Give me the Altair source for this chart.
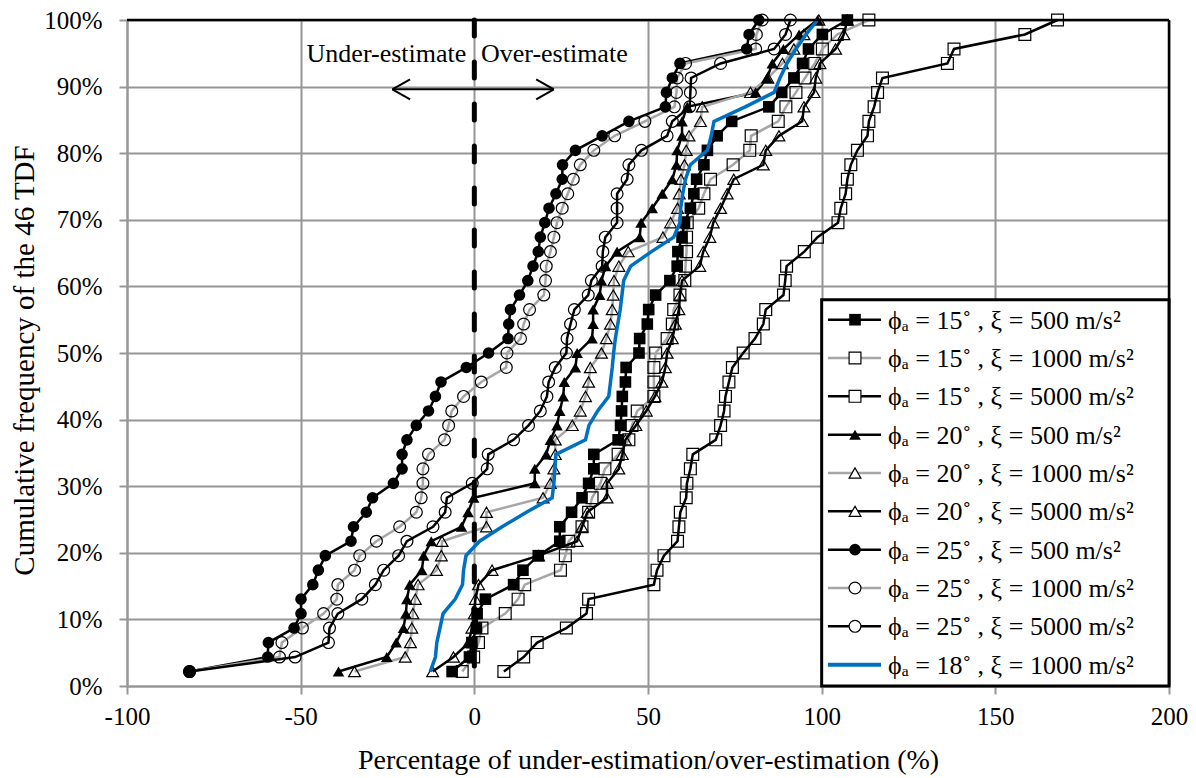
import altair as alt
import pandas as pd

# cumulative frequency of the 46 TDF (k/46, in %)
CUM_FREQ = [2.17, 4.35, 6.52, 8.70, 10.87, 13.04, 15.22, 17.39, 19.57, 21.74,
            23.91, 26.09, 28.26, 30.43, 32.61, 34.78, 36.96, 39.13, 41.30, 43.48,
            45.65, 47.83, 50.00, 52.17, 54.35, 56.52, 58.70, 60.87, 63.04, 65.22,
            67.39, 69.57, 71.74, 73.91, 76.09, 78.26, 80.43, 82.61, 84.78, 86.96,
            89.13, 91.30, 93.48, 95.65, 97.83, 100.00]

PHI15_XI500 = [-6.4, -1.4, -0.7, 0.6, 0.8, 3.2, 11.3, 14.0, 18.4, 24.6,
               24.6, 28.0, 31.0, 32.9, 34.4, 34.4, 41.4, 42.1, 42.4, 42.6,
               43.5, 43.7, 47.4, 47.6, 49.8, 50.2, 52.2, 56.3, 58.4, 58.6,
               59.8, 60.5, 62.2, 63.2, 64.0, 66.1, 67.1, 69.9, 74.1, 84.8,
               88.5, 92.0, 94.5, 96.2, 100.2, 107.4]
PHI15_XI1000 = [-3.5, -0.2, 1.2, 2.2, 8.9, 12.6, 14.5, 24.8, 26.2, 27.2,
                31.0, 32.9, 33.9, 36.3, 37.6, 41.4, 44.5, 45.4, 46.9, 51.7,
                51.7, 51.7, 52.2, 55.5, 57.0, 57.4, 59.2, 60.6, 60.8, 61.1,
                61.1, 61.3, 64.6, 66.1, 68.0, 74.5, 79.3, 79.7, 87.5, 89.7,
                92.6, 95.2, 98.0, 100.2, 104.5, 113.6]
PHI15_XI5000 = [8.5, 14.2, 18.1, 26.5, 32.3, 32.9, 51.7, 52.6, 54.6, 58.5,
                58.9, 59.3, 61.0, 61.2, 62.2, 62.9, 69.5, 70.9, 71.9, 72.3,
                73.3, 74.3, 77.4, 80.8, 83.2, 83.9, 89.0, 89.5, 89.9, 95.0,
                98.8, 104.7, 105.5, 106.9, 107.4, 108.4, 110.3, 113.2, 113.6, 115.1,
                116.1, 117.5, 136.2, 138.1, 158.5, 167.9]
PHI20_XI500 = [-39.1, -25.2, -22.5, -20.4, -19.7, -19.4, -18.6, -15.1, -14.6, -12.4,
               -3.7, -1.8, -0.2, 17.4, 17.4, 20.7, 21.9, 23.8, 24.6, 25.6,
               25.9, 29.1, 29.6, 33.9, 34.2, 34.2, 36.1, 36.6, 37.8, 41.1,
               47.6, 48.0, 51.2, 54.1, 57.0, 58.2, 58.4, 59.8, 59.8, 61.3,
               81.0, 84.3, 85.8, 89.0, 93.5, 98.8]
PHI20_XI1000 = [-34.5, -19.9, -18.4, -18.0, -17.7, -17.0, -16.2, -10.9, -9.5, -9.3,
                3.5, 3.5, 19.8, 21.9, 22.9, 23.3, 23.3, 28.2, 30.5, 32.0,
                32.9, 33.4, 36.6, 38.0, 39.2, 39.7, 40.0, 40.2, 41.6, 44.3,
                54.3, 56.5, 58.5, 59.0, 59.5, 60.5, 61.0, 61.8, 65.1, 65.6,
                79.5, 84.5, 88.7, 92.0, 94.9, 99.2]
PHI20_XI5000 = [-12.0, -6.0, -1.6, -0.7, 0.0, 0.3, 1.2, 5.1, 18.5, 29.6,
                31.0, 32.5, 38.2, 38.2, 41.6, 42.6, 43.5, 46.5, 49.5, 52.0,
                54.0, 55.0, 55.5, 57.0, 57.9, 58.9, 59.2, 59.8, 64.9, 65.9,
                67.8, 68.8, 70.9, 72.8, 74.7, 83.2, 83.9, 87.7, 94.4, 94.9,
                97.8, 98.3, 99.5, 104.0, 106.4, 107.4]
PHI25_XI500 = [-82.0, -59.5, -59.3, -51.9, -49.9, -49.9, -46.5, -44.9, -42.9, -35.5,
               -34.8, -31.1, -29.3, -23.3, -20.8, -20.8, -19.4, -16.7, -13.2, -11.2,
               -9.6, -2.3, 4.1, 9.7, 9.9, 10.4, 13.0, 15.4, 16.9, 18.4,
               19.0, 20.3, 21.5, 23.5, 25.3, 25.4, 29.1, 36.8, 44.5, 55.0,
               55.3, 57.0, 59.2, 78.4, 79.1, 81.9]
PHI25_XI1000 = [-82.0, -56.1, -55.4, -49.5, -43.4, -39.6, -39.3, -34.5, -33.0, -28.2,
                -21.5, -16.7, -15.3, -14.8, -14.8, -13.2, -8.6, -7.4, -6.5, -3.1,
                2.0, 9.2, 9.4, 13.3, 14.2, 15.9, 20.0, 20.5, 20.7, 21.9,
                22.9, 23.8, 25.3, 26.9, 28.5, 30.5, 34.4, 40.4, 49.1, 57.6,
                58.2, 58.4, 60.8, 81.0, 81.2, 82.9]
PHI25_XI5000 = [-82.0, -51.6, -42.0, -41.7, -39.3, -32.4, -28.5, -26.1, -21.8, -19.4,
                -11.9, -8.4, -7.9, -0.6, 3.7, 4.0, 11.3, 15.6, 19.0, 20.9,
                21.4, 23.3, 26.5, 26.7, 27.7, 28.8, 32.8, 33.7, 36.8, 37.0,
                37.7, 41.1, 41.1, 41.1, 44.0, 44.5, 48.1, 55.5, 57.0, 62.0,
                62.2, 62.4, 70.9, 86.3, 89.6, 91.0]
PHI18_XI1000 = [-12.7, -11.2, -10.8, -9.9, -9.0, -5.5, -3.4, -3.1, -2.4, 1.5,
                8.0, 15.0, 22.4, 22.9, 23.2, 23.5, 32.0, 33.0, 35.5, 38.7,
                39.2, 39.7, 40.1, 40.6, 41.3, 42.0, 42.5, 43.0, 45.0, 51.0,
                57.4, 59.2, 59.4, 60.0, 60.8, 62.2, 67.1, 68.2, 69.0, 78.0,
                86.3, 88.0, 90.0, 92.6, 95.5, 98.8]

SERIES = ["s1", "s2", "s3", "s4", "s5", "s6", "s7", "s8", "s9", "s10"]
LABELS = ["ϕₐ = 15˚ , ξ = 500 m/s²", "ϕₐ = 15˚ , ξ = 1000 m/s²", "ϕₐ = 15˚ , ξ = 5000 m/s²",
          "ϕₐ = 20˚ , ξ = 500 m/s²", "ϕₐ = 20˚ , ξ = 1000 m/s²", "ϕₐ = 20˚ , ξ = 5000 m/s²",
          "ϕₐ = 25˚ , ξ = 500 m/s²", "ϕₐ = 25˚ , ξ = 1000 m/s²", "ϕₐ = 25˚ , ξ = 5000 m/s²",
          "ϕₐ = 18˚ , ξ = 1000 m/s²"]
VALUES = [PHI15_XI500, PHI15_XI1000, PHI15_XI5000, PHI20_XI500, PHI20_XI1000,
          PHI20_XI5000, PHI25_XI500, PHI25_XI1000, PHI25_XI5000, PHI18_XI1000]

X_TICKS = [-100, -50, 0, 50, 100, 150, 200]
Y_TICKS = [0, 10, 20, 30, 40, 50, 60, 70, 80, 90, 100]
X_TITLE = "Percentage of under-estimation/over-estimation (%)"
Y_TITLE = "Cumulative frequency of the 46 TDF"

FONT = "Liberation Serif"
GRID = "#969696"
GRAY = "#a6a6a6"
BLUE = "#0070c0"
LINE_COLORS = ["black", GRAY, "black", "black", GRAY, "black", "black", GRAY, "black", BLUE]
SHAPES = ["square", "square", "square", "triangle-up", "triangle-up", "triangle-up",
          "circle", "circle", "circle", "circle"]
FILLED_SERIES = ["s1", "s4", "s7"]
OPEN_SERIES = ["s2", "s3", "s5", "s6", "s8", "s9"]

for v in VALUES:
    assert len(v) == len(CUM_FREQ)

rows = []
for key, lab, xs in zip(SERIES, LABELS, VALUES):
    for k, (c, x) in enumerate(zip(CUM_FREQ, xs)):
        rows.append({"series": key, "label": lab, "k": k, "cum": c, "val": x})
df = pd.DataFrame(rows)

# legend layout (in data units of the plot)
leg_rows = []
for i, (key, lab) in enumerate(zip(SERIES, LABELS)):
    leg_rows.append({"series": key, "label": lab, "cum": 55.0 - 5.755 * i,
                     "x_a": 101.8, "x_b": 117.1, "val": 109.6, "x_t": 119.1})
leg = pd.DataFrame(leg_rows)

one = pd.DataFrame({"d": [0]})

x_scale = alt.Scale(domain=[-100, 200], nice=False, zero=False)
y_scale = alt.Scale(domain=[0, 100], nice=False, zero=False)

x_axis = alt.Axis(values=X_TICKS, labelExpr="'' + datum.value", grid=True,
                  gridColor=GRID, gridWidth=2, domainColor=GRID, domainWidth=2,
                  tickColor=GRID, tickWidth=2, tickSize=8, labelFont=FONT,
                  labelFontSize=25, labelColor="black", labelPadding=10,
                  labelFlush=False, labelOverlap=False,
                  titleFont=FONT, titleFontSize=28, titleFontWeight="normal",
                  titleColor="black", titleX=521, titleY=82,
                  titleBaseline="alphabetic", titleAlign="center")
y_axis = alt.Axis(values=Y_TICKS, labelExpr="datum.value + '%'", grid=True,
                  gridColor=GRID, gridWidth=2, domainColor=GRID, domainWidth=2,
                  tickColor=GRID, tickWidth=2, tickSize=8, labelFont=FONT,
                  labelFontSize=25, labelColor="black", labelPadding=17,
                  labelFlush=False, labelOverlap=False,
                  titleFont=FONT, titleFontSize=29, titleFontWeight="normal",
                  titleColor="black", titleX=-103, titleY=340, titleAngle=-90,
                  titleBaseline="middle", titleAlign="center")


def X(field):
    return alt.X(field, type="quantitative", scale=x_scale, axis=x_axis, title=X_TITLE)


def Y(field):
    return alt.Y(field, type="quantitative", scale=y_scale, axis=y_axis, title=Y_TITLE)


color_enc = alt.Color("series:N", scale=alt.Scale(domain=SERIES, range=LINE_COLORS), legend=None)
shape_enc = alt.Shape("series:N", scale=alt.Scale(domain=SERIES, range=SHAPES), legend=None)

base_lines = alt.Chart(df[df.series != "s10"]).mark_line(strokeWidth=2.5).encode(
    x=X("val"), y=Y("cum"), color=color_enc, detail="series:N", order="k:Q")

filled_pts = alt.Chart(df[df.series.isin(FILLED_SERIES)]).mark_point(
    filled=True, color="black", size=135, opacity=1).encode(
    x=X("val"), y=Y("cum"), shape=shape_enc)

open_pts = alt.Chart(df[df.series.isin(OPEN_SERIES)]).mark_point(
    filled=False, color="black", size=140, strokeWidth=1.2, opacity=1).encode(
    x=X("val"), y=Y("cum"), shape=shape_enc)

blue_line = alt.Chart(df[df.series == "s10"]).mark_line(strokeWidth=3.5).encode(
    x=X("val"), y=Y("cum"), color=color_enc, order="k:Q")

zero_line = alt.Chart(one).mark_rule(color="black", strokeWidth=5, strokeDash=[16, 26],
                                     strokeCap="round").encode(
    x=alt.X(datum=0, scale=x_scale), y=alt.Y(datum=100, scale=y_scale),
    y2=alt.Y2(datum=0))

# double-headed arrow annotation
ARROW_X0 = [-23.6, -23.6, -23.6, 22.9, 22.9]
ARROW_X1 = [22.9, -18.5, -18.5, 17.8, 17.8]
ARROW_Y0 = [89.6, 89.6, 89.6, 89.6, 89.6]
ARROW_Y1 = [89.6, 91.1, 88.1, 91.1, 88.1]
arrows = pd.DataFrame({"xa": ARROW_X0, "xb": ARROW_X1, "ya": ARROW_Y0, "yb": ARROW_Y1})
arrow_layer = alt.Chart(arrows).mark_rule(color="black", strokeWidth=2).encode(
    x=X("xa"), x2="xb", y=Y("ya"), y2="yb")

notes = pd.DataFrame({"val": [-2.3, 1.9], "cum": [93.65, 93.65],
                      "text": ["Under-estimate", "Over-estimate"]})
note_under = alt.Chart(notes.iloc[[0]]).mark_text(font=FONT, fontSize=26, align="right",
                                                  baseline="alphabetic", color="black").encode(
    x=X("val"), y=Y("cum"), text="text:N")
note_over = alt.Chart(notes.iloc[[1]]).mark_text(font=FONT, fontSize=26, align="left",
                                                 baseline="alphabetic", color="black").encode(
    x=X("val"), y=Y("cum"), text="text:N")

top_border = alt.Chart(one).mark_rule(color="black", strokeWidth=2.5).encode(
    x=alt.X(datum=-100, scale=x_scale), x2=alt.X2(datum=200), y=alt.Y(datum=100, scale=y_scale))
right_border = alt.Chart(one).mark_rule(color="black", strokeWidth=2.5).encode(
    x=alt.X(datum=200, scale=x_scale), y=alt.Y(datum=0, scale=y_scale), y2=alt.Y2(datum=100))

legend_box = alt.Chart(one).mark_rect(fill="white", stroke="black", strokeWidth=3).encode(
    x=alt.X(datum=100, scale=x_scale), x2=alt.X2(datum=200),
    y=alt.Y(datum=58.0, scale=y_scale), y2=alt.Y2(datum=0))

leg_lines = alt.Chart(leg[leg.series != "s10"]).mark_rule(strokeWidth=2.5).encode(
    x=X("x_a"), x2="x_b", y=Y("cum"), color=color_enc)
leg_blue = alt.Chart(leg[leg.series == "s10"]).mark_rule(strokeWidth=4).encode(
    x=X("x_a"), x2="x_b", y=Y("cum"), color=color_enc)
leg_filled = alt.Chart(leg[leg.series.isin(FILLED_SERIES)]).mark_point(
    filled=True, color="black", size=135, opacity=1).encode(
    x=X("val"), y=Y("cum"), shape=shape_enc)
leg_open = alt.Chart(leg[leg.series.isin(OPEN_SERIES)]).mark_point(
    filled=True, fill="white", stroke="black", size=140, strokeWidth=1.2, opacity=1).encode(
    x=X("val"), y=Y("cum"), shape=shape_enc)
leg_text = alt.Chart(leg).mark_text(font=FONT, fontSize=26, align="left",
                                    baseline="alphabetic", dy=9, color="black").encode(
    x=X("x_t"), y=Y("cum"), text="label:N")

chart = alt.layer(
    base_lines, filled_pts, open_pts, blue_line, zero_line, arrow_layer,
    note_under, note_over, top_border, right_border,
    legend_box, leg_lines, leg_blue, leg_filled, leg_open, leg_text
).properties(
    width=1042, height=666,
    padding={"left": 119, "top": 12, "right": 19, "bottom": 90},
    autosize=alt.AutoSizeParams(type="none"),
).configure_view(stroke=None).configure(background="white")

chart.save("out.html", embed_options={"renderer": "svg", "actions": False})
